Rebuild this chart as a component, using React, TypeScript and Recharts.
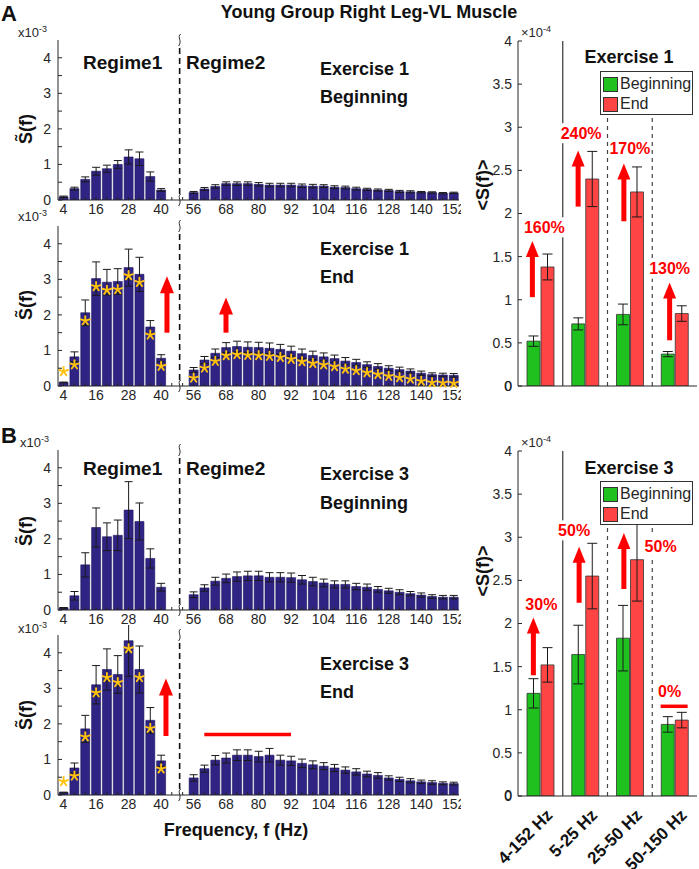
import React from "react";
import {
    Bar,
    BarChart,
    ErrorBar,
    LabelList,
    ReferenceDot,
    ReferenceLine,
    XAxis,
    YAxis,
} from "recharts";

const FONT = "Arial, 'Liberation Sans', Helvetica, sans-serif";
const AXIS = "#262626";
const NAVY = "#2f2484";
const GREEN = "#1ec11e";
const RED = "#ff4444";
const ARROW = "#ff0000";

// frequency bins (Hz), two regimes separated by an axis break
const regime1Freqs = [4, 8, 12, 16, 20, 24, 28, 32, 36, 40];
const gapSlots = ["g1", "g2"];
const regime2Freqs = [
    56, 60, 64, 68, 72, 76, 80, 84, 88, 92, 96, 100, 104, 108, 112, 116, 120,
    124, 128, 132, 136, 140, 144, 148, 152,
];
const freqTickLabels = ["4", "16", "28", "40", "56", "68", "80", "92", "104", "116", "128", "140", "152"];

// S~(f) x1e-3, Exercise 1 beginning
const ex1BegR1 = [0.09, 0.32, 0.58, 0.81, 0.88, 1.0, 1.21, 1.16, 0.66, 0.28];
const ex1BegR1Err = [0.02, 0.04, 0.07, 0.11, 0.1, 0.11, 0.2, 0.19, 0.13, 0.04];
const ex1BegR2 = [
    0.21, 0.31, 0.38, 0.46, 0.46, 0.46, 0.44, 0.42, 0.42, 0.42, 0.4, 0.39,
    0.39, 0.36, 0.35, 0.32, 0.3, 0.28, 0.27, 0.24, 0.23, 0.22, 0.21, 0.19, 0.2,
];
const ex1BegR2Err = [
    0.03, 0.04, 0.05, 0.05, 0.05, 0.05, 0.05, 0.05, 0.05, 0.05, 0.05, 0.05,
    0.04, 0.04, 0.04, 0.04, 0.03, 0.03, 0.03, 0.03, 0.03, 0.02, 0.02, 0.02, 0.02,
];

// Exercise 1 end
const ex1EndR1 = [0.1, 0.82, 2.06, 3.02, 2.92, 2.94, 3.33, 3.14, 1.66, 0.78];
const ex1EndR1Err = [0.01, 0.14, 0.36, 0.47, 0.36, 0.36, 0.52, 0.48, 0.18, 0.1];
const ex1EndR2 = [
    0.45, 0.73, 0.92, 1.08, 1.11, 1.09, 1.08, 1.06, 1.03, 0.98, 0.91, 0.86,
    0.82, 0.77, 0.7, 0.66, 0.6, 0.55, 0.5, 0.46, 0.42, 0.36, 0.32, 0.31, 0.3,
];
const ex1EndR2Err = [
    0.07, 0.1, 0.12, 0.14, 0.15, 0.15, 0.15, 0.15, 0.14, 0.14, 0.13, 0.12,
    0.11, 0.1, 0.1, 0.09, 0.08, 0.08, 0.07, 0.07, 0.06, 0.06, 0.05, 0.05, 0.05,
];

// Exercise 3 beginning
const ex3BegR1 = [0.06, 0.4, 1.27, 2.32, 2.06, 2.1, 2.81, 2.49, 1.45, 0.64];
const ex3BegR1Err = [0.01, 0.12, 0.34, 0.55, 0.39, 0.43, 0.8, 0.52, 0.27, 0.11];
const ex3BegR2 = [
    0.43, 0.62, 0.81, 0.89, 0.94, 0.96, 0.96, 0.92, 0.92, 0.91, 0.85, 0.8,
    0.76, 0.72, 0.72, 0.66, 0.64, 0.58, 0.54, 0.5, 0.46, 0.42, 0.38, 0.36, 0.36,
];
const ex3BegR2Err = [
    0.08, 0.09, 0.11, 0.12, 0.13, 0.13, 0.13, 0.13, 0.13, 0.13, 0.12, 0.12,
    0.11, 0.1, 0.1, 0.09, 0.09, 0.08, 0.07, 0.07, 0.06, 0.06, 0.05, 0.05, 0.05,
];

// Exercise 3 end
const ex3EndR1 = [0.07, 0.76, 1.86, 3.1, 3.53, 3.39, 4.34, 3.53, 2.1, 0.96];
const ex3EndR1Err = [0.01, 0.14, 0.38, 0.54, 0.58, 0.53, 1.0, 0.66, 0.36, 0.16];
const ex3EndR2 = [
    0.48, 0.74, 0.98, 1.04, 1.12, 1.12, 1.08, 1.12, 0.98, 0.96, 0.89, 0.85,
    0.81, 0.76, 0.7, 0.65, 0.59, 0.55, 0.48, 0.44, 0.4, 0.37, 0.35, 0.33, 0.32,
];
const ex3EndR2Err = [
    0.09, 0.1, 0.13, 0.14, 0.15, 0.15, 0.15, 0.19, 0.14, 0.13, 0.12, 0.11,
    0.1, 0.1, 0.09, 0.09, 0.08, 0.08, 0.06, 0.06, 0.06, 0.05, 0.05, 0.04, 0.04,
];

// <S(f)> x1e-4 per band
const bands = ["4-152 Hz", "5-25 Hz", "25-50 Hz", "50-150 Hz"];
const meanTicks = [0, 0.5, 1, 1.5, 2, 2.5, 3, 3.5, 4];
const ex1Beg = [0.52, 0.72, 0.83, 0.37];
const ex1BegErr = [0.06, 0.07, 0.12, 0.03];
const ex1End = [1.38, 2.4, 2.25, 0.84];
const ex1EndErr = [0.15, 0.32, 0.29, 0.09];
const ex3Beg = [1.19, 1.64, 1.83, 0.83];
const ex3BegErr = [0.17, 0.34, 0.38, 0.09];
const ex3End = [1.52, 2.55, 2.74, 0.88];
const ex3EndErr = [0.2, 0.38, 0.48, 0.09];
const ex1Change = ["160%", "240%", "170%", "130%"];
const ex3Change = ["30%", "50%", "50%", "0%"];

type Row = { f: string; v: number | null; e: number | null; star: number | null };

const buildRows = (
    r1: number[],
    r1e: number[],
    r2: number[],
    r2e: number[],
    starR1: boolean,
    starR2: boolean
): Row[] => [
    ...regime1Freqs.map((f, i) => ({ f: String(f), v: r1[i], e: r1e[i], star: starR1 ? 1 : null })),
    ...gapSlots.map((g) => ({ f: g, v: null, e: null, star: null })),
    ...regime2Freqs.map((f, i) => ({ f: String(f), v: r2[i], e: r2e[i], star: starR2 ? 1 : null })),
];

const Txt = ({
    x,
    y,
    size = 14,
    bold = false,
    color = AXIS,
    center = false,
    right = false,
    rotate = 0,
    children,
}: any) => (
    <div
        style={{
            position: "absolute",
            left: x,
            top: y,
            transform: `translate(${center ? "-50%" : right ? "-100%" : "0"}, -50%) rotate(${rotate}deg)`,
            fontSize: size,
            fontWeight: bold ? 700 : 400,
            color,
            whiteSpace: "nowrap",
            lineHeight: 1,
            fontFamily: FONT,
        }}
    >
        {children}
    </div>
);

const Asterisk = ({ cx, cy }: { cx: number; cy: number }) => {
    const r = 4.6;
    const arms = [90, 162, 234, 306, 18];
    return (
        <g stroke="#ffc20e" strokeWidth={1.9} strokeLinecap="round">
            {arms.map((a) => (
                <line
                    key={a}
                    x1={cx}
                    y1={cy}
                    x2={cx + r * Math.cos((a * Math.PI) / 180)}
                    y2={cy - r * Math.sin((a * Math.PI) / 180)}
                />
            ))}
        </g>
    );
};

// star marks: value comes from the row's "star" field
const renderStar = (p: any) => {
    if (p.value == null || !p.width) return null;
    const cx = p.x + p.width / 2;
    const cy = p.height < 6 ? p.y - 11 : p.y + 8;
    return <Asterisk key={`s-${p.x}`} cx={cx} cy={cy} />;
};

// vertical red arrow drawn along a reference segment
const arrowShape =
    (dx: number, shaft: number, headW: number, headL: number) => (p: any) => {
        const x = p.x1 + dx;
        const yB = Math.max(p.y1, p.y2);
        const yT = Math.min(p.y1, p.y2);
        return (
            <g>
                <rect x={x - shaft / 2} y={yT + headL - 1} width={shaft} height={yB - yT - headL + 1} fill={ARROW} />
                <polygon
                    points={`${x - headW / 2},${yT + headL} ${x + headW / 2},${yT + headL} ${x},${yT}`}
                    fill={ARROW}
                />
            </g>
        );
    };

// dashed axis break with small wiggles on the frame
const breakShape = (p: any) => {
    const x = p.x1 - 3;
    const top = Math.min(p.y1, p.y2);
    const bot = Math.max(p.y1, p.y2);
    const wig = (y: number) => (
        <g>
            <rect x={x - 2} y={y - 6} width={4} height={12} fill="#fff" />
            <path
                d={`M${x + 1},${y - 6} C${x - 3},${y - 3} ${x + 3},${y + 1} ${x - 1},${y + 6}`}
                fill="none"
                stroke={AXIS}
                strokeWidth={1}
            />
        </g>
    );
    return (
        <g>
            <line x1={x} y1={top + 8} x2={x} y2={bot - 6} stroke="#111" strokeWidth={1.6} strokeDasharray="6 4" />
            {wig(top)}
            {wig(bot)}
        </g>
    );
};

const PLOT_H = 160;

function SpectrumPanel({ rows, top, arrows = [], flatLine }: any) {
    const yTicks = [0, 0.5, 1, 1.5, 2, 2.5, 3, 3.5, 4];
    return (
        <div style={{ position: "absolute", left: 0, top }}>
            <BarChart
                width={461}
                height={PLOT_H + 35}
                data={rows}
                margin={{ top: 10, right: 2, left: 0, bottom: 0 }}
                barCategoryGap="10%"
            >
                <XAxis
                    dataKey="f"
                    interval={0}
                    height={25}
                    tickSize={-3}
                    tickMargin={7}
                    stroke={AXIS}
                    tick={{ fontSize: 14, fill: AXIS }}
                    tickFormatter={(v: string) => (freqTickLabels.includes(v) ? v : "")}
                />
                <XAxis xAxisId="top" dataKey="f" orientation="top" interval={0} height={0} tickSize={-3} tick={false} stroke={AXIS} />
                <YAxis
                    domain={[0, 4.5]}
                    ticks={yTicks}
                    interval={0}
                    allowDataOverflow
                    width={58}
                    tickSize={-4}
                    tickMargin={11}
                    stroke={AXIS}
                    tick={{ fontSize: 14, fill: AXIS }}
                    tickFormatter={(v: number) => (Number.isInteger(v) ? String(v) : "")}
                />
                <YAxis yAxisId="r" orientation="right" domain={[0, 4.5]} ticks={yTicks} interval={0} allowDataOverflow width={0} tickSize={-4} tick={false} stroke={AXIS} />
                <Bar dataKey="v" fill={NAVY} stroke="#1c1460" strokeWidth={0.6} isAnimationActive={false}>
                    <ErrorBar dataKey="e" width={4} stroke="#1a1a1a" strokeWidth={1} />
                    <LabelList dataKey="star" content={renderStar} />
                </Bar>
                <ReferenceLine x="g2" shape={breakShape} />
                {arrows.map((a: any, i: number) => (
                    <ReferenceLine
                        key={i}
                        segment={[{ x: a.x, y: a.from }, { x: a.x, y: a.to }]}
                        shape={arrowShape(a.dx, 5, 14, 17)}
                    />
                ))}
                {flatLine && (
                    <ReferenceLine
                        segment={[{ x: flatLine.from, y: flatLine.y }, { x: flatLine.to, y: flatLine.y }]}
                        stroke={ARROW}
                        strokeWidth={3.5}
                    />
                )}
            </BarChart>
        </div>
    );
}

const MeanYTick = (p: any) => (
    <text x={p.x} y={p.y} dy="0.35em" textAnchor="end" fontSize={14} fill={AXIS}>
        {String(p.payload.value)}
    </text>
);

function MeanPanel({ top, beg, begErr, end, endErr, showX, arrows, labels, sepTop, zeroLine }: any) {
    const rows = bands.map((b, i) => ({ band: b, b: beg[i], be: begErr[i], e: end[i], ee: endErr[i] }));
    const plotH = 345;
    const xH = showX ? 74 : 12;
    const RotTick = (p: any) => (
        <text
            x={p.x + 9}
            y={p.y + 10}
            transform={`rotate(-45 ${p.x + 9} ${p.y + 10})`}
            textAnchor="end"
            dy="0.35em"
            fontSize={17}
            fontWeight={700}
            fill="#111"
        >
            {p.payload.value}
        </text>
    );
    const labelShape = (text: string, dx: number) => (p: any) => {
        const w = text.length * 10 + 2;
        return (
            <g>
                <rect x={p.cx + dx - w / 2} y={p.cy - 10} width={w} height={20} fill="#fff" />
                <text x={p.cx + dx} y={p.cy} dy="0.36em" textAnchor="middle" fontSize={16} fontWeight={700} fill={ARROW}>
                    {text}
                </text>
            </g>
        );
    };
    return (
        <div style={{ position: "absolute", left: 460, top }}>
            <BarChart
                width={239}
                height={10 + plotH + xH}
                data={rows}
                margin={{ top: 10, right: 2, left: 0, bottom: 0 }}
                barGap={1}
            >
                <XAxis
                    dataKey="band"
                    height={xH}
                    tickLine={false}
                    tickMargin={0}
                    stroke={AXIS}
                    tick={showX ? RotTick : false}
                    interval={0}
                />
                <XAxis xAxisId="top" dataKey="band" orientation="top" height={0} tick={false} tickLine={false} stroke={AXIS} />
                <YAxis
                    domain={[0, 4]}
                    ticks={meanTicks}
                    interval={0}
                    allowDataOverflow
                    width={58}
                    tickSize={-4}
                    tickMargin={10}
                    stroke={AXIS}
                    tick={MeanYTick}
                />
                <YAxis yAxisId="r" orientation="right" domain={[0, 4]} width={0} tick={false} tickLine={false} stroke={AXIS} />
                <ReferenceLine x={bands[1]} position="start" stroke="#444" strokeWidth={1.3} />
                <ReferenceLine
                    segment={[{ x: bands[2], y: 0 }, { x: bands[2], y: sepTop }]}
                    position="start"
                    stroke="#444"
                    strokeWidth={1.2}
                    strokeDasharray="4 4"
                />
                <ReferenceLine
                    segment={[{ x: bands[3], y: 0 }, { x: bands[3], y: sepTop }]}
                    position="start"
                    stroke="#444"
                    strokeWidth={1.2}
                    strokeDasharray="4 4"
                />
                <Bar dataKey="b" fill={GREEN} stroke="#333" strokeWidth={0.8} barSize={13} isAnimationActive={false}>
                    <ErrorBar dataKey="be" width={5} stroke="#1a1a1a" strokeWidth={1} />
                </Bar>
                <Bar dataKey="e" fill={RED} stroke="#333" strokeWidth={0.8} barSize={13} isAnimationActive={false}>
                    <ErrorBar dataKey="ee" width={5} stroke="#1a1a1a" strokeWidth={1} />
                </Bar>
                {arrows.map((a: any, i: number) => (
                    <ReferenceLine
                        key={`a${i}`}
                        segment={[{ x: bands[a.i], y: a.from }, { x: bands[a.i], y: a.to }]}
                        shape={arrowShape(a.dx, 5, 13, 16)}
                    />
                ))}
                {labels.map((l: any, i: number) => (
                    <ReferenceDot key={`l${i}`} x={bands[l.i]} y={l.y} r={0} shape={labelShape(l.text, l.dx)} />
                ))}
                {zeroLine && (
                    <ReferenceDot
                        x={bands[zeroLine.i]}
                        y={zeroLine.y}
                        r={0}
                        shape={(p: any) => (
                            <line x1={p.cx - 14} x2={p.cx + 13} y1={p.cy} y2={p.cy} stroke={ARROW} strokeWidth={3.5} />
                        )}
                    />
                )}
            </BarChart>
        </div>
    );
}

const Legend2 = ({ top }: { top: number }) => (
    <div
        style={{
            position: "absolute",
            left: 600,
            top,
            width: 91,
            height: 42,
            border: "1px solid #333",
            background: "#fff",
            fontFamily: FONT,
            fontSize: 16,
            color: AXIS,
        }}
    >
        {[
            ["Beginning", GREEN],
            ["End", RED],
        ].map(([name, c], i) => (
            <div key={name} style={{ position: "absolute", left: 2, top: 4 + i * 20, display: "flex", alignItems: "center", lineHeight: 1 }}>
                <span style={{ width: 13, height: 13, background: c, border: "1px solid #333", marginRight: 2, display: "inline-block" }} />
                <span>{name}</span>
            </div>
        ))}
    </div>
);

const Exp = ({ x, y, p, times = "x" }: any) => (
    <Txt x={x} y={y} size={13}>
        {times}10<span style={{ fontSize: 9, verticalAlign: "super" }}>{p}</span>
    </Txt>
);

export default function App() {
    const a1 = buildRows(ex1BegR1, ex1BegR1Err, ex1BegR2, ex1BegR2Err, false, false);
    const a2 = buildRows(ex1EndR1, ex1EndR1Err, ex1EndR2, ex1EndR2Err, true, true);
    const b1 = buildRows(ex3BegR1, ex3BegR1Err, ex3BegR2, ex3BegR2Err, false, false);
    const b2 = buildRows(ex3EndR1, ex3EndR1Err, ex3EndR2, ex3EndR2Err, true, false);

    const sLabel = "S\u0303(f)";
    const panelTops = [30, 216, 440, 625];

    return (
        <div style={{ position: "relative", width: 699, height: 869, background: "#fff", overflow: "hidden", fontFamily: FONT }}>
            <style>{"body{margin:0}"}</style>

            <SpectrumPanel rows={a1} top={panelTops[0]} />
            <SpectrumPanel
                rows={a2}
                top={panelTops[1]}
                arrows={[
                    { x: "40", dx: 6, from: 1.5, to: 3.09 },
                    { x: "68", dx: 0, from: 1.5, to: 2.49 },
                ]}
            />
            <SpectrumPanel rows={b1} top={panelTops[2]} />
            <SpectrumPanel
                rows={b2}
                top={panelTops[3]}
                arrows={[{ x: "40", dx: 5, from: 1.66, to: 3.28 }]}
                flatLine={{ from: "60", to: "92", y: 1.7 }}
            />

            <MeanPanel
                top={31}
                beg={ex1Beg}
                begErr={ex1BegErr}
                end={ex1End}
                endErr={ex1EndErr}
                showX={false}
                sepTop={3.15}
                arrows={[
                    { i: 0, dx: -8, from: 1.03, to: 1.68 },
                    { i: 1, dx: -7, from: 2.08, to: 2.73 },
                    { i: 2, dx: -6, from: 1.91, to: 2.58 },
                    { i: 3, dx: -5, from: 0.53, to: 1.2 },
                ]}
                labels={[
                    { i: 0, dx: 4, y: 1.84, text: ex1Change[0] },
                    { i: 1, dx: -4, y: 2.93, text: ex1Change[1] },
                    { i: 2, dx: 0, y: 2.76, text: ex1Change[2] },
                    { i: 3, dx: -5, y: 1.36, text: ex1Change[3] },
                ]}
            />
            <MeanPanel
                top={441}
                beg={ex3Beg}
                begErr={ex3BegErr}
                end={ex3End}
                endErr={ex3EndErr}
                showX
                sepTop={3.13}
                arrows={[
                    { i: 0, dx: -7, from: 1.4, to: 2.07 },
                    { i: 1, dx: -6, from: 2.24, to: 2.89 },
                    { i: 2, dx: -6, from: 2.4, to: 3.05 },
                ]}
                labels={[
                    { i: 0, dx: 1, y: 2.22, text: ex3Change[0] },
                    { i: 1, dx: -11, y: 3.08, text: ex3Change[1] },
                    { i: 3, dx: -14, y: 2.9, text: ex3Change[2] },
                    { i: 3, dx: -5, y: 1.22, text: ex3Change[3] },
                ]}
                zeroLine={{ i: 3, y: 1.04 }}
            />

            <Legend2 top={71} />
            <Legend2 top={481} />

            {/* baseline labels of the mean panels */}
            <Txt x={512} y={386} size={14} right>0</Txt>
            <Txt x={512} y={795} size={14} right>0</Txt>

            {/* titles and annotations */}
            <Txt x={369} y={12} size={18} bold center color="#111">Young Group Right Leg-VL Muscle</Txt>
            <Txt x={1} y={14} size={22} bold color="#111">A</Txt>
            <Txt x={1} y={436} size={22} bold color="#111">B</Txt>

            <Exp x={18} y={32} p="-3" />
            <Exp x={18} y={216} p="-3" />
            <Exp x={20} y={442} p="-3" />
            <Exp x={18} y={628} p="-3" />
            <Exp x={521} y={32} p="-4" times="×" />
            <Exp x={521} y={442} p="-4" times="×" />

            <Txt x={26} y={129} size={18} bold center rotate={-90} color="#111">{sLabel}</Txt>
            <Txt x={26} y={305} size={18} bold center rotate={-90} color="#111">{sLabel}</Txt>
            <Txt x={26} y={531} size={18} bold center rotate={-90} color="#111">{sLabel}</Txt>
            <Txt x={26} y={715} size={18} bold center rotate={-90} color="#111">{sLabel}</Txt>
            <Txt x={483} y={185} size={18} bold center rotate={-90} color="#111">{"<S(f)>"}</Txt>
            <Txt x={483} y={571} size={18} bold center rotate={-90} color="#111">{"<S(f)>"}</Txt>

            <Txt x={83} y={62} size={19} bold color="#111">Regime1</Txt>
            <Txt x={186} y={62} size={19} bold color="#111">Regime2</Txt>
            <Txt x={83} y={468} size={19} bold color="#111">Regime1</Txt>
            <Txt x={186} y={468} size={19} bold color="#111">Regime2</Txt>

            <Txt x={320} y={69} size={18} bold color="#111">Exercise 1</Txt>
            <Txt x={320} y={97} size={18} bold color="#111">Beginning</Txt>
            <Txt x={320} y={249} size={18} bold color="#111">Exercise 1</Txt>
            <Txt x={320} y={277} size={18} bold color="#111">End</Txt>
            <Txt x={320} y={474} size={18} bold color="#111">Exercise 3</Txt>
            <Txt x={320} y={503} size={18} bold color="#111">Beginning</Txt>
            <Txt x={320} y={664} size={18} bold color="#111">Exercise 3</Txt>
            <Txt x={320} y={692} size={18} bold color="#111">End</Txt>

            <Txt x={629} y={57} size={18} bold center color="#111">Exercise 1</Txt>
            <Txt x={629} y={468} size={18} bold center color="#111">Exercise 3</Txt>

            <Txt x={236} y={830} size={18} bold center color="#111">Frequency, f (Hz)</Txt>
        </div>
    );
}
